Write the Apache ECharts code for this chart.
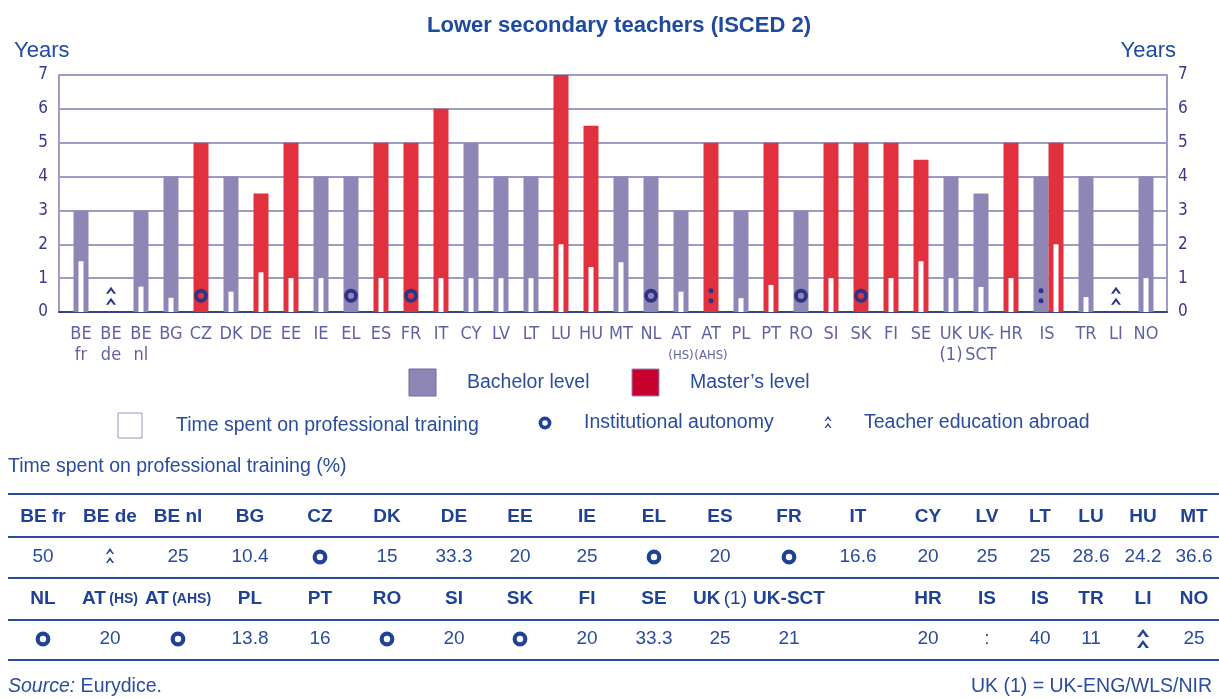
<!DOCTYPE html>
<html>
<head>
<meta charset="utf-8">
<script src="https://cdn.jsdelivr.net/npm/echarts@6/dist/echarts.min.js"></script>
<style>
html,body{margin:0;padding:0;background:#fff;}
#main{width:1219px;height:698px;}
</style>
</head>
<body>
<div id="main"></div>
<script>
// 数据
var countries = ['BE fr','BE de','BE nl','BG','CZ','DK','DE','EE','IE','EL','ES','FR','IT','CY','LV','LT','LU','HU','MT','NL',
    'AT (HS)','AT (AHS)','PL','PT','RO','SI','SK','FI','SE','UK (1)','UK-SCT','HR','IS','TR','LI','NO'];
var bachelor = [3,null,3,4,null,4,null,null,4,4,null,null,null,5,4,4,null,null,4,4,
    3,null,3,null,3,null,null,null,null,4,3.5,null,4,4,null,4];
var master = [null,null,null,null,5,null,3.5,5,null,null,5,5,6,null,null,null,7,5.5,null,null,
    null,5,null,5,null,5,5,5,4.5,null,null,5,5,null,null,null];
var training = [1.5,null,0.75,0.42,null,0.6,1.17,1,1,null,1,null,1,1,1,1,2,1.33,1.47,null,
    0.6,null,0.41,0.8,null,1,null,1,1.5,1,0.74,1,2,0.44,null,1];
// auto = institutional autonomy, abroad = teacher education abroad, na = not available
var notes = [null,'abroad',null,null,'auto',null,null,null,null,'auto',null,'auto',null,null,null,null,null,null,null,'auto',
    null,'na',null,null,'auto',null,'auto',null,null,null,null,null,'na',null,'abroad',null];
var yTicks = [0,1,2,3,4,5,6,7];

// 表格
var tableHead1 = ['BE fr','BE de','BE nl','BG','CZ','DK','DE','EE','IE','EL','ES','FR','IT','CY','LV','LT','LU','HU','MT'];
var tableVal1 = ['50','^','25','10.4','o','15','33.3','20','25','o','20','o','16.6','20','25','25','28.6','24.2','36.6'];
var tableHead2 = ['NL','AT (HS)','AT (AHS)','PL','PT','RO','SI','SK','FI','SE','UK (1)','UK-SCT','','HR','IS','IS','TR','LI','NO'];
var tableVal2 = ['o','20','o','13.8','16','o','20','o','20','33.3','25','21','','20',':','40','11','^','25'];

var narrow = "'Liberation Sans Narrow', 'DejaVu Sans Condensed', 'Liberation Sans', sans-serif";
var sans = "'Liberation Sans', Arial, sans-serif";
var navy = '#35398a';
var blue = '#2a4c9e';
var tblue = '#1f4196';
var purple = '#8e87b6';
var red = '#e1313e';
var gridColor = '#9a9dc6';
var MARK_Y = 0.48;

// x位置: 同一国家有两条柱时, 第二条紧挨着
var bachX = [], mastX = [], labelX = [];
var pos = 0;
countries.forEach(function(c, i){
    var both = bachelor[i] != null && master[i] != null;
    bachX.push(pos);
    mastX.push(both ? pos + 0.5 : pos);
    labelX.push(both ? pos + 0.2 : pos);
    pos += both ? 1.5 : 1;
});

function pts(vals, xs){
    var arr = [];
    for (var i = 0; i < vals.length; i++){
        if (vals[i] != null) arr.push([xs[i], vals[i]]);
    }
    return arr;
}
var trainX = countries.map(function(c, i){ return master[i] != null ? mastX[i] : bachX[i]; });
var noteX = countries.map(function(c, i){ return bachelor[i] != null ? bachX[i] : mastX[i]; });
function notePts(kind){
    var arr = [];
    notes.forEach(function(n, i){ if (n == kind) arr.push([noteX[i], MARK_Y]); });
    return arr;
}

var chevron = 'path://M0,7L5,0L10,7L7.6,7L5,3.4L2.4,7Z M0,18L5,11L10,18L7.6,18L5,14.4L2.4,18Z';
var colon = 'path://M0,2.5A2.5,2.5,0,1,1,5,2.5A2.5,2.5,0,1,1,0,2.5Z M0,12.5A2.5,2.5,0,1,1,5,12.5A2.5,2.5,0,1,1,0,12.5Z';

// 双尖角 (用两个polygon)
function addCaret(cx, top, w, h, gap, thick, color){
    for (var k = 0; k < 2; k++){
        var y0 = top + k * (h + gap);
        graphics.push({type: 'polygon', shape: {points: [
            [cx - w / 2, y0 + h], [cx, y0], [cx + w / 2, y0 + h],
            [cx + w / 2 - thick, y0 + h], [cx, y0 + h * 0.48], [cx - w / 2 + thick, y0 + h]
        ]}, style: {fill: color}});
    }
}

function xLabel(name){
    if (name.indexOf('AT ') == 0) return 'AT\n{s|' + name.slice(3) + '}';
    if (name == 'UK-SCT') return 'UK-\nSCT';
    return name.replace(' ', '\n');
}

var xBase = {type: 'value', min: -0.733, max: 36.2, show: false, splitLine: {show: false}};
var yBase = {
    type: 'value', min: 0, max: 7, interval: 1,
    axisLine: {show: true, onZero: false, lineStyle: {color: gridColor, width: 2}},
    axisTick: {show: false},
    axisLabel: {color: navy, fontSize: 17, fontFamily: narrow, margin: 11,
        formatter: function(v){ return yTicks.indexOf(v) > -1 ? String(v) : ''; }}
};

// 表格和图例用graphic画
var graphics = [];
[494, 537, 578, 620, 660].forEach(function(y){
    graphics.push({type: 'line', shape: {x1: 8, y1: y, x2: 1219, y2: y}, style: {stroke: '#2a4a9c', lineWidth: 2.2}});
});
var tableColX = [43,110,178,250,320,387,454,520,587,654,720,789,858,928,987,1040,1091,1143,1194];
var richHead = {
    b: {fontFamily: sans, fontWeight: 'bold', fontSize: 19, fill: tblue},
    s: {fontFamily: sans, fontWeight: 'bold', fontSize: 14, fill: tblue},
    r: {fontFamily: sans, fontSize: 19, fill: tblue}
};
function headText(h){
    if (h.indexOf('AT ') == 0) return '{b|AT} {s|' + h.slice(3) + '}';
    if (h == 'UK (1)') return '{b|UK} {r|(1)}';
    return '{b|' + h + '}';
}
function addCell(v, x, y, bold){
    if (v == 'o'){
        graphics.push({type: 'circle', shape: {cx: x, cy: y, r: 5.3}, style: {fill: 'none', stroke: tblue, lineWidth: 4.2}});
    } else if (v == '^'){
        if (bold) addCaret(x, y - 10, 12, 8, 3, 3.2, tblue);
        else addCaret(x, y - 9, 8, 6, 3, 1.6, tblue);
    } else if (v !== ''){
        graphics.push({type: 'text', x: x, y: y, style: {text: v, fill: blue, font: '19px ' + sans, align: 'center', verticalAlign: 'middle'}});
    }
}
tableColX.forEach(function(x, i){
    graphics.push({type: 'text', x: x, y: 517, style: {text: headText(tableHead1[i]), rich: richHead, align: 'center', verticalAlign: 'middle'}});
    addCell(tableVal1[i], x, 557, false);
    if (tableHead2[i] !== '')
        graphics.push({type: 'text', x: x, y: 599, style: {text: headText(tableHead2[i]), rich: richHead, align: 'center', verticalAlign: 'middle'}});
    addCell(tableVal2[i], x, 639, true);
});

function legText(t, x, y, extra){
    var s = {text: t, fill: blue, font: '19.5px ' + sans, align: 'left', verticalAlign: 'middle'};
    for (var k in extra) s[k] = extra[k];
    graphics.push({type: 'text', x: x, y: y, style: s});
}
graphics.push({type: 'rect', shape: {x: 409, y: 369, width: 27, height: 27}, style: {fill: purple, stroke: '#6f69a3', lineWidth: 1}});
legText('Bachelor level', 467, 383);
graphics.push({type: 'rect', shape: {x: 632, y: 369, width: 27, height: 27}, style: {fill: '#c8002e', stroke: '#8e87b6', lineWidth: 1}});
legText('Master\u2019s level', 690, 383);
graphics.push({type: 'rect', shape: {x: 118, y: 413, width: 24, height: 25}, style: {fill: '#fff', stroke: '#9a95c0', lineWidth: 1}});
legText('Time spent on professional training', 176, 426);
graphics.push({type: 'circle', shape: {cx: 545, cy: 423, r: 4.6}, style: {fill: 'none', stroke: tblue, lineWidth: 3.6}});
legText('Institutional autonomy', 584, 423);
addCaret(828, 416, 7, 5, 2, 1.4, tblue);
legText('Teacher education abroad', 864, 423);
legText('Time spent on professional training (%)', 8, 467);
graphics.push({type: 'text', x: 8, y: 687, style: {text: '{i|Source:} Eurydice.', align: 'left', verticalAlign: 'middle',
    rich: {i: {fontStyle: 'italic', fontFamily: sans, fontSize: 19.5, fill: blue}}, fill: blue, font: '19.5px ' + sans}});
legText('UK (1) = UK-ENG/WLS/NIR', 1212, 687, {align: 'right'});

var myChart = echarts.init(document.getElementById('main'));
var option = {
    animation: false,
    backgroundColor: '#fff',
    title: [{
        text: 'Lower secondary teachers (ISCED 2)', left: 614, top: 10, textAlign: 'center',
        textStyle: {color: '#1e4aa0', fontSize: 22, fontWeight: 'bold', fontFamily: sans}
    }, {
        text: 'Years', left: 9, top: 35, textStyle: {color: '#1e4aa0', fontSize: 22, fontWeight: 'normal', fontFamily: sans}
    }, {
        text: 'Years', right: 38, top: 35, textStyle: {color: '#1e4aa0', fontSize: 22, fontWeight: 'normal', fontFamily: sans}
    }],
    grid: {left: 59, right: 52, top: 75, bottom: 386},
    xAxis: [
        {type: 'value', min: -0.733, max: 36.2, splitLine: {show: false}, axisTick: {show: false}, axisLabel: {show: false},
            axisLine: {show: true, lineStyle: {color: '#3c3f8c', width: 2}}},
        xBase, xBase
    ],
    yAxis: [
        Object.assign({}, yBase, {position: 'left', splitLine: {show: true, lineStyle: {color: gridColor, width: 2}}}),
        Object.assign({}, yBase, {position: 'right', splitLine: {show: false}})
    ],
    series: [{
        name: 'Bachelor level', type: 'bar', xAxisIndex: 0, barWidth: 15,
        itemStyle: {color: purple}, data: pts(bachelor, bachX)
    }, {
        name: 'Master\u2019s level', type: 'bar', xAxisIndex: 1, barWidth: 15,
        itemStyle: {color: red}, data: pts(master, mastX)
    }, {
        name: 'Time spent on professional training', type: 'bar', xAxisIndex: 2, barWidth: 5,
        itemStyle: {color: '#fff'}, data: pts(training, trainX)
    }, {
        name: 'Institutional autonomy', type: 'scatter', clip: false, symbol: 'circle', symbolSize: 10, z: 5,
        itemStyle: {color: 'rgba(0,0,0,0)', borderColor: '#2d3386', borderWidth: 3.8, opacity: 1},
        data: notePts('auto')
    }, {
        name: 'na', type: 'scatter', clip: false, symbol: colon, symbolSize: [5, 15], z: 5,
        itemStyle: {color: '#2d3386', opacity: 1}, data: notePts('na')
    }, {
        name: 'Teacher education abroad', type: 'scatter', clip: false, symbol: chevron, symbolSize: [10, 18], z: 5,
        itemStyle: {color: '#2d3386', opacity: 1}, data: notePts('abroad')
    }, {
        name: 'labels', type: 'scatter', clip: false, symbolSize: 0, silent: true,
        itemStyle: {color: 'rgba(0,0,0,0)'},
        data: countries.map(function(c, i){ return {name: c, value: [labelX[i], 0]}; }),
        label: {
            show: true, position: 'bottom', distance: 12,
            formatter: function(p){ return xLabel(p.name); },
            color: navy, fontSize: 18, fontFamily: narrow, lineHeight: 21,
            rich: {s: {fontSize: 13, fontFamily: narrow, color: navy, lineHeight: 21}}
        }
    }],
    graphic: graphics
};
myChart.setOption(option);
</script>
</body>
</html>
